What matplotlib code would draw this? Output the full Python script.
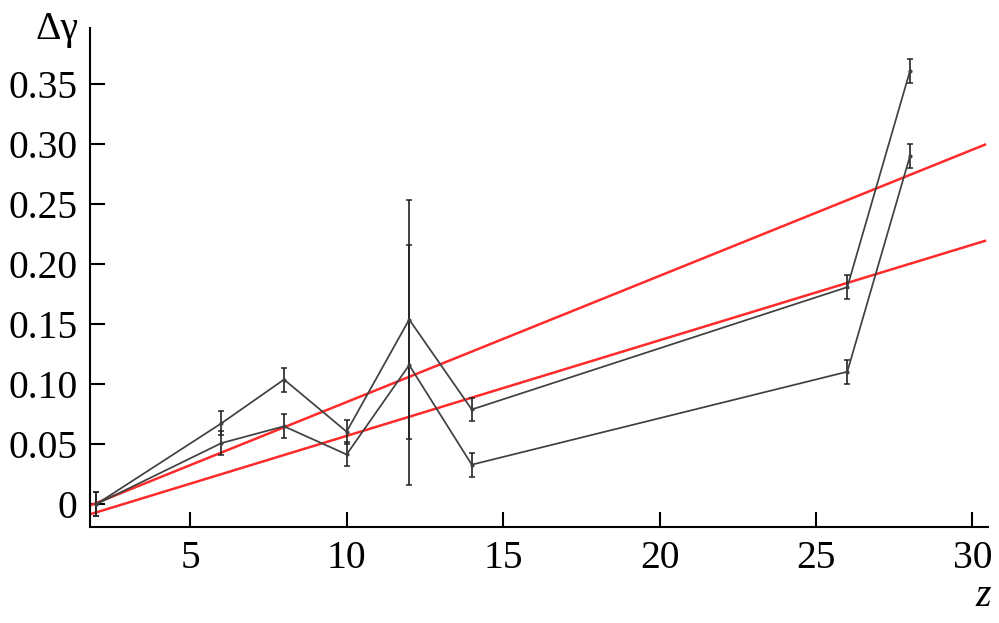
import numpy as np
import matplotlib.pyplot as plt

plt.rcParams['font.family'] = 'Liberation Serif'

# measured points
z = [2, 6, 8, 10, 12, 14, 26, 28]
dg_upper = [0.0, 0.0675, 0.104, 0.0605, 0.154, 0.079, 0.181, 0.361]
dg_lower = [0.0, 0.051, 0.065, 0.0415, 0.116, 0.033, 0.1105, 0.290]
err = [0.01, 0.01, 0.01, 0.01, 0.10, 0.01, 0.01, 0.01]

# linear fits (intercept, slope)
fit_upper = (-0.020, 0.01052)
fit_lower = (-0.0227, 0.00797)
z_fit = [1.85, 30.4]

fig = plt.figure(figsize=(9.99, 6.23), dpi=100)
ax = fig.add_axes([0.0901, 0.154, 0.899, 0.801])

for a, b in (fit_upper, fit_lower):
    zz = np.array(z_fit)
    ax.plot(zz, a + b * zz, color='#ff2a2a', linewidth=1.8, zorder=2)

for vals in (dg_upper, dg_lower):
    ax.errorbar(z, vals, yerr=err, color='#404040', linewidth=1.25,
                ecolor='#222222', elinewidth=1.2, capsize=2.5, capthick=1.1,
                marker='o', markersize=2, zorder=3)

ax.set_xlim(1.8, 30.5)
ax.set_ylim(-0.019, 0.397)
ax.set_xticks([5, 10, 15, 20, 25, 30])
ax.set_yticks([0, 0.05, 0.10, 0.15, 0.20, 0.25, 0.30, 0.35])
ax.set_yticklabels(['0', '0.05', '0.10', '0.15', '0.20', '0.25', '0.30', '0.35'])

for s in ('top', 'right'):
    ax.spines[s].set_visible(False)
for s in ('left', 'bottom'):
    ax.spines[s].set_linewidth(1.5)

ax.tick_params(direction='in', length=11, width=1.5, labelsize=28.5, pad=9)

fig.text(0.057, 0.952, 'Δγ', fontsize=28.5, ha='center', va='center')
fig.text(0.984, 0.042, 'z', fontsize=28.5, style='italic', ha='center', va='center')

plt.savefig('out.png', dpi=100)
